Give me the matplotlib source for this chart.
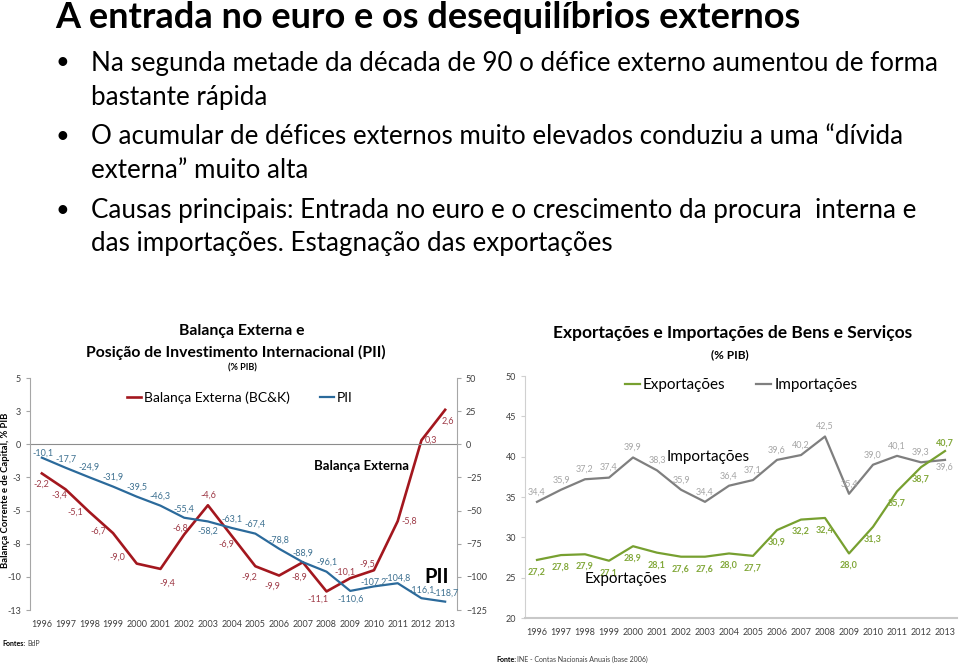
import numpy as np
import matplotlib
matplotlib.use("Agg")
import matplotlib.pyplot as plt
from matplotlib.ticker import FuncFormatter

plt.rcParams['font.family'] = ['Lato', 'DejaVu Sans']

years = [str(y) for y in range(1996, 2014)]

# Balança Externa (BC&K), % PIB  -- left axis
balanca = [-2.2, -3.4, -5.1, -6.7, -9.0, -9.4, -6.8, -4.6, -6.9, -9.2,
           -9.9, -8.9, -11.1, -10.1, -9.5, -5.8, 0.3, 2.6]
# PII, % PIB -- right axis
pii = [-10.1, -17.7, -24.9, -31.9, -39.5, -46.3, -55.4, -58.2, -63.1, -67.4,
       -78.8, -88.9, -96.1, -110.6, -107.2, -104.8, -116.1, -118.7]
# Exportações / Importações de bens e serviços, % PIB
exportacoes = [27.2, 27.8, 27.9, 27.1, 28.9, 28.1, 27.6, 27.6, 28.0, 27.7,
               30.9, 32.2, 32.4, 28.0, 31.3, 35.7, 38.7, 40.7]
importacoes = [34.4, 35.9, 37.2, 37.4, 39.9, 38.3, 35.9, 34.4, 36.4, 37.1,
               39.6, 40.2, 42.5, 35.4, 39.0, 40.1, 39.3, 39.6]

# label offsets in pixels (dx, dy), dy up
off_bal = [(0, -11), (-6, -6), (-14, 0), (-15, 2), (-19, 6), (7, -14), (-4, 6), (0, 10),
           (-5, -8), (-6, -11), (-7, -11), (-3, -15), (-9, -8), (-5, 6), (-7, 6), (12, 0),
           (10, 0), (3, -11)]
off_pii = [(1, 4), (0, 9), (0, 10), (0, 9), (0, 9), (0, 9), (0, 9), (0, -10), (0, 9), (0, 9),
           (0, 9), (0, 9), (0, 9), (0, -8), (0, 4), (0, 5), (0, 8), (0, 8)]

RED = '#A3171E'
RED_LBL = '#9E3A47'
BLUE = '#2B6A9B'
BLUE_LBL = '#3E7191'
GREEN = '#77A030'
GREEN_LBL = '#82A83A'
GRAY = '#7F7F7F'
GRAY_LBL = '#A6A6A6'
AXIS = '#A6A6A6'


def fmt(v):
    return ('%.1f' % v).replace('.', ',')


def excel_round(v, pos=None):
    r = int(np.sign(v) * np.floor(abs(v) + 0.5))
    return str(r)


fig = plt.figure(figsize=(9.6, 6.64), dpi=100)

# ---- slide text ----
fig.text(55 / 960, 1 - 18 / 664, 'A entrada no euro e os desequilíbrios externos',
         fontsize=26, fontweight='bold', va='center', ha='left')
bullets = [
    (63, True, 'Na segunda metade da década de 90 o défice externo aumentou de forma'),
    (97, False, 'bastante rápida'),
    (137, True, 'O acumular de défices externos muito elevados conduziu a uma \u201cdívida'),
    (170, False, 'externa\u201d muito alta'),
    (211, True, 'Causas principais: Entrada no euro e o crescimento da procura  interna e'),
    (244, False, 'das importações. Estagnação das exportações'),
]
for y, dot, txt in bullets:
    if dot:
        fig.text(62 / 960, 1 - y / 664, '\u2022', fontsize=17, va='center', ha='center')
    fig.text(91 / 960, 1 - y / 664, txt, fontsize=18.7, va='center', ha='left')

# ---- left chart ----
ax1 = fig.add_axes([30 / 960, 1 - 610 / 664, 427 / 960, 232 / 664])
ax2 = ax1.twinx()
x = np.arange(len(years))

ax1.plot(x, balanca, color=RED, lw=1.9)
ax2.plot(x, pii, color=BLUE, lw=1.6)
ax1.axhline(0, color='#8C8C8C', lw=0.8)

ax1.set_xlim(-0.5, len(years) - 0.5)
ax1.set_ylim(-12.5, 5)
ax1.set_yticks(np.arange(-12.5, 5.01, 2.5))
ax1.yaxis.set_major_formatter(FuncFormatter(excel_round))
ax2.set_ylim(-125, 50)
ax2.set_yticks(np.arange(-125, 51, 25))
ax1.set_xticks(x)
ax1.set_xticklabels(years)

for a in (ax1, ax2):
    for s in ('top', 'bottom'):
        a.spines[s].set_visible(False)
    a.tick_params(axis='y', labelsize=6.5, colors='#404040', length=3, color=AXIS, width=0.8)
    a.tick_params(axis='x', labelsize=6.5, colors='#404040', length=0, pad=7)
ax1.spines['right'].set_visible(False)
ax2.spines['left'].set_visible(False)
ax1.spines['left'].set_color(AXIS)
ax2.spines['right'].set_color(AXIS)
fig.text(6 / 960, 1 - 490 / 664, 'Balança Corrente e de Capital, % PIB', fontsize=6.8,
         fontweight='bold', rotation=90, ha='center', va='center')

for i, v in enumerate(balanca):
    ax1.annotate(fmt(v), (x[i], v), xytext=off_bal[i], textcoords='offset pixels',
                 ha='center', va='center', fontsize=6.5, color=RED_LBL)
for i, v in enumerate(pii):
    ax2.annotate(fmt(v), (x[i], v), xytext=off_pii[i], textcoords='offset pixels',
                 ha='center', va='center', fontsize=6.5, color=BLUE_LBL)

fig.text(242 / 960, 1 - 331 / 664, 'Balança Externa e', fontsize=11.3, fontweight='bold',
         ha='center', va='center')
fig.text(236 / 960, 1 - 352 / 664, 'Posição de Investimento Internacional (PII)', fontsize=11.3,
         fontweight='bold', ha='center', va='center')
fig.text(242 / 960, 1 - 368 / 664, '(% PIB)', fontsize=6.5, fontweight='bold',
         ha='center', va='center')
fig.text(362 / 960, 1 - 466 / 664, 'Balança Externa', fontsize=9.5, fontweight='bold',
         ha='center', va='center')
fig.text(437 / 960, 1 - 577 / 664, 'PII', fontsize=14.5, fontweight='bold',
         ha='center', va='center')

h1, = ax1.plot([], [], color=RED, lw=1.9, label='Balança Externa (BC&K)')
h2, = ax1.plot([], [], color=BLUE, lw=1.6, label='PII')
fig.legend(handles=[h1, h2], loc='center', bbox_to_anchor=(240 / 960, 1 - 398 / 664),
           ncol=2, frameon=False, fontsize=10, handlelength=1.0, handletextpad=0.2,
           columnspacing=2.2)

fig.text(2 / 960, 1 - 643 / 664, 'Fontes:', fontsize=5, fontweight='bold', va='center')
fig.text(27 / 960, 1 - 643 / 664, 'BdP', fontsize=5, va='center', color='#404040')

# ---- right chart ----
ax3 = fig.add_axes([525 / 960, 1 - 618 / 664, 432 / 960, 242 / 664])
ax3.plot(x, importacoes, color=GRAY, lw=1.6)
ax3.plot(x, exportacoes, color=GREEN, lw=1.6)
ax3.set_xlim(-0.5, len(years) - 0.5)
ax3.set_ylim(20, 50)
ax3.set_yticks(np.arange(20, 51, 5))
ax3.set_xticks(x)
ax3.set_xticklabels(years)
for s in ('top', 'right'):
    ax3.spines[s].set_visible(False)
ax3.spines['left'].set_color('#D0D0D0')
ax3.spines['bottom'].set_color('#C8C8C8')
ax3.spines['bottom'].set_linewidth(1.5)
ax3.tick_params(axis='y', labelsize=6.5, colors='#404040', length=3, color='#D0D0D0')
ax3.tick_params(axis='x', labelsize=6.5, colors='#404040', length=0, pad=7)

for i, v in enumerate(importacoes):
    dy = -7 if i == len(years) - 1 else 10
    ax3.annotate(fmt(v), (x[i], v), xytext=(0, dy), textcoords='offset pixels',
                 ha='center', va='center', fontsize=6.5, color=GRAY_LBL)
for i, v in enumerate(exportacoes):
    dy = 8 if i == len(years) - 1 else -12
    ax3.annotate(fmt(v), (x[i], v), xytext=(0, dy), textcoords='offset pixels',
                 ha='center', va='center', fontsize=6.5, color=GREEN_LBL, fontweight='bold')

fig.text(733 / 960, 1 - 333 / 664, 'Exportações e Importações de Bens e Serviços', fontsize=12.5,
         fontweight='bold', ha='center', va='center')
fig.text(730 / 960, 1 - 355 / 664, '(% PIB)', fontsize=8.5, fontweight='bold',
         ha='center', va='center')
fig.text(708 / 960, 1 - 457 / 664, 'Importações', fontsize=11, ha='center', va='center')
fig.text(626 / 960, 1 - 579 / 664, 'Exportações', fontsize=11, ha='center', va='center')

h3, = ax3.plot([], [], color=GREEN, lw=1.6, label='Exportações')
h4, = ax3.plot([], [], color=GRAY, lw=1.6, label='Importações')
fig.legend(handles=[h3, h4], loc='center', bbox_to_anchor=(741 / 960, 1 - 385 / 664),
           ncol=2, frameon=False, fontsize=11, handlelength=1.0, handletextpad=0.2,
           columnspacing=2.0)

fig.text(496 / 960, 1 - 659 / 664, 'Fonte:', fontsize=5, fontweight='bold', va='center')
fig.text(517 / 960, 1 - 659 / 664, 'INE - Contas Nacionais Anuais (base 2006)', fontsize=5,
         va='center', color='#404040')

fig.savefig('out.png', dpi=100)
